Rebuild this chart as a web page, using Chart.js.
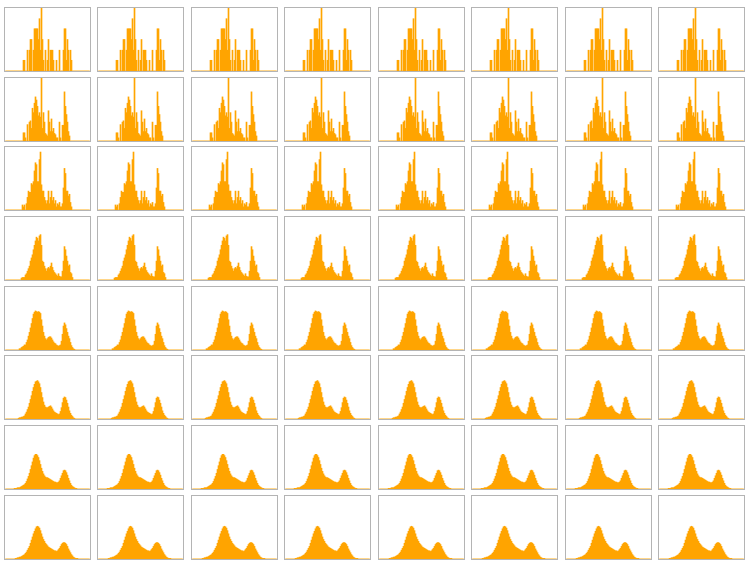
<!DOCTYPE html>
<html>
<head>
<meta charset="utf-8">
<script src="https://cdn.jsdelivr.net/npm/chart.js@4/dist/chart.umd.min.js"></script>
<style>
html,body{margin:0;padding:0;background:#fff;}
#wrap{position:relative;width:748px;height:564px;overflow:hidden;}
canvas{position:absolute;}
</style>
</head>
<body>
<div id="wrap"></div>
<script>
// Histogram bin labels (85 bins across the shared x range)
const binLabels = Array.from({length: 85}, (_, i) => 'b' + i);

// Bar heights (percent of panel height), one array per row of panels
const row1 = [0,0,0,0,0,0,0,0,0,0,0,0,0,0,0,0,0,0,
  17,17,0,0,33,0,33,50,50,0,33,67,67,67,67,50,83,33,105,50,17,0,33,0,17,50,0,33,33,33,17,0,0,17,0,0,33,0,0,0,33,67,67,17,50,33,0,33,17,
  0,0,0,0,0,0,0,0,0,0,0,0,0,0,0,0,0,0];
const row2 = [0,0,0,0,0,0,0,0,0,0,0,0,0,0,0,0,0,
  0,13,13,5,0,26,0,30,32,20,52,45,60,70,65,55,40,45,38,100,20,45,30,12,10,8,48,30,15,35,15,20,12,10,5,5,0,30,5,0,25,25,78,55,42,30,15,8,
  0,0,0,0,0,0,0,0,0,0,0,0,0,0,0,0,0,0,0,0];
const row3 = [0,0,0,0,0,0,0,0,0,0,0,0,0,0,0,0,0,
  8,5,8,0,10,20,30,28,28,42,40,45,62,75,72,45,45,80,92,40,30,30,20,15,10,15,30,10,20,30,15,20,10,15,5,10,8,12,5,5,10,35,66,58,30,30,22,25,12,5,
  0,0,0,0,0,0,0,0,0,0,0,0,0,0,0,0,0,0];
const row4 = [0,0,0,0,0,0,0,0,0,0,0,0,0,0,0,0,
  3,4,4,4,8,10,14,18,22,30,35,40,48,55,62,68,66,62,70,72,55,30,28,22,18,14,18,20,18,22,27,20,15,12,10,8,6,10,6,5,5,14,30,53,48,38,30,22,24,12,10,4,
  0,0,0,0,0,0,0,0,0,0,0,0,0,0,0,0,0];
const row5 = [0,0,0,0,0,0,0,0,0,0,0,0,0,0,
  2,2,4,5,6,8,8,12,16,22,28,35,42,50,57,60,62,61,60,61,60,58,48,38,28,22,18,16,18,20,21,21,19,16,13,11,10,8,7,6,7,8,14,25,38,43,40,34,28,22,18,12,7,4,2,1,
  0,0,0,0,0,0,0,0,0,0,0,0,0,0,0];
const row6 = [0,0,0,0,0,0,0,0,0,0,0,0,0,
  1,2,2,3,3,4,5,8,11,15,19,25,31,37,44,50,55,59,60,61,59,56,50,42,34,27,22,19,18,18,19,20,21,19,16,13,11,10,9,8,7,8,12,18,26,33,35,34,30,25,19,13,9,6,4,2,1,
  0,0,0,0,0,0,0,0,0,0,0,0,0,0,0];
const row7 = [0,0,0,0,0,0,0,0,0,
  1,1,1,2,2,2,3,4,5,6,7,9,12,16,20,25,31,37,43,49,53,55,55,53,50,45,39,33,28,24,21,19,18,18,17,16,15,14,13,12,11,11,10,10,11,13,17,21,25,29,30,29,26,22,17,13,9,6,4,3,2,1,1,0,
  0,0,0,0,0,0,0,0,0,0,0,0];
const row8 = [0,0,0,0,0,0,0,0,0,0,
  1,1,2,2,3,3,4,5,6,7,9,11,14,17,20,25,30,35,40,44,48,51,52,51,49,45,40,35,31,28,25,23,21,19,18,17,16,15,14,13,13,12,13,15,17,20,23,25,26,26,25,23,20,16,13,10,7,5,3,2,1,1,1,0,0,0,0,
  0,0,0,0,0,0,0,0];

const rows = [row1, row2, row3, row4, row5, row6, row7, row8];
const nCols = 8;

// layout
const colLeft = [4, 97, 191, 284, 378, 471, 565, 658];
const rowTop = [7, 77, 146, 216, 286, 355, 425, 495];
const panelW = 87, panelH = 65;

const frame = {
  id: 'frame',
  afterDraw(chart) {
    const c = chart.ctx;
    c.save();
    c.strokeStyle = '#b4b4b4';
    c.lineWidth = 1;
    c.strokeRect(0.5, 0.5, chart.width - 1, chart.height - 1);
    c.restore();
  }
};

const wrap = document.getElementById('wrap');
rows.forEach((vals, r) => {
  for (let c = 0; c < nCols; c++) {
    const cv = document.createElement('canvas');
    cv.width = panelW; cv.height = panelH;
    cv.style.left = colLeft[c] + 'px';
    cv.style.top = rowTop[r] + 'px';
    cv.style.width = panelW + 'px';
    cv.style.height = panelH + 'px';
    wrap.appendChild(cv);
    new Chart(cv, {
      type: 'bar',
      data: {
        labels: binLabels,
        datasets: [{
          data: vals,
          backgroundColor: '#FFA500',
          borderWidth: 0,
          barPercentage: 1,
          categoryPercentage: 1
        }]
      },
      options: {
        responsive: false,
        animation: false,
        devicePixelRatio: 1,
        events: [],
        layout: {padding: {left: 1, right: 1, top: 1, bottom: 1}},
        plugins: {legend: {display: false}, tooltip: {enabled: false}},
        scales: {
          x: {display: false},
          y: {display: false, min: 0, max: 100}
        }
      },
      plugins: [frame]
    });
  }
});
</script>
</body>
</html>
